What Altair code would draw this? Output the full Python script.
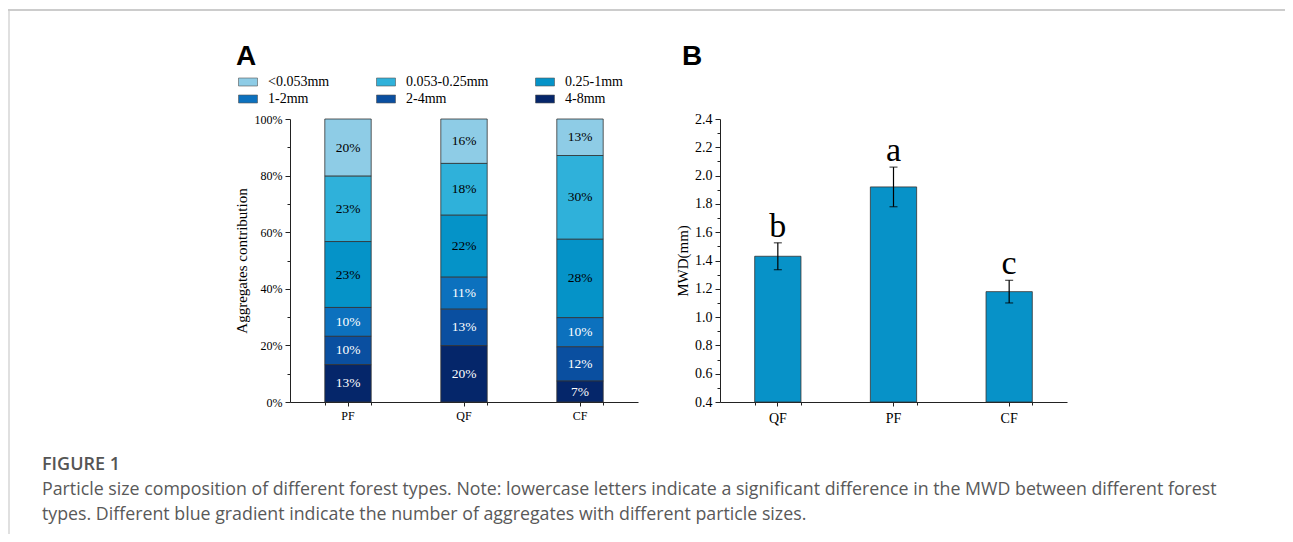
import altair as alt
import pandas as pd

# ---------------- data ----------------
forests_a = ["PF", "QF", "CF"]
sizes = ["<0.053mm", "0.053-0.25mm", "0.25-1mm", "1-2mm", "2-4mm", "4-8mm"]
pf_vals = [20.2, 23.1, 23.3, 10.2, 10.0, 13.2]
qf_vals = [15.7, 18.3, 21.9, 11.3, 12.9, 19.9]
cf_vals = [12.9, 29.6, 27.7, 10.3, 12.1, 7.4]
size_colors = ["#8ecce6", "#2fb1da", "#0593c8", "#0c71be", "#0a4fa0", "#05266a"]
dark_sizes = ["1-2mm", "2-4mm", "4-8mm"]
pct_ticks = [0, 10, 20, 30, 40, 50, 60, 70, 80, 90, 100]

forests_b = ["QF", "PF", "CF"]
mwd = [1.43, 1.92, 1.18]
mwd_err = [0.095, 0.14, 0.08]
letters = ["b", "a", "c"]
mwd_ticks = [0.4, 0.5, 0.6, 0.7, 0.8, 0.9, 1.0, 1.1, 1.2, 1.3, 1.4, 1.5,
             1.6, 1.7, 1.8, 1.9, 2.0, 2.1, 2.2, 2.3, 2.4]

caption_head = "FIGURE 1"
caption_lines = [
    "Particle size composition of different forest types. Note: lowercase letters indicate a significant difference in the MWD between different forest",
    "types. Different blue gradient indicate the number of aggregates with different particle sizes.",
]

# ---------------- tables ----------------
rows = []
for f, vals in zip(forests_a, [pf_vals, qf_vals, cf_vals]):
    for i, (s, v) in enumerate(zip(sizes, vals)):
        rows.append({"forest": f, "size": s, "value": v, "order": len(sizes) - 1 - i})
df_a = pd.DataFrame(rows)

df_b = pd.DataFrame({"forest": forests_b, "mwd": mwd, "err": mwd_err, "letter": letters})
df_b["lo"] = df_b["mwd"] - df_b["err"]
df_b["hi"] = df_b["mwd"] + df_b["err"]

SERIF = "Liberation Serif"
SANS = "Liberation Sans"
AX = "#222222"

# ---------------- panel A ----------------
def xa_scale():
    return alt.Scale(domain=forests_a, range=[0, 348], paddingInner=0.6, paddingOuter=0.3)

def ya_scale():
    return alt.Scale(domain=[0, 100], nice=False)

xa = alt.X("forest:N", sort=forests_a, scale=xa_scale(),
           axis=alt.Axis(orient="bottom", title=None, labelAngle=0, labelFont=SERIF,
                         labelFontSize=12, labelColor="#000", tickSize=4, labelPadding=4,
                         domainColor=AX, tickColor=AX, grid=False))
ya = alt.Y("value:Q", stack="zero", scale=ya_scale(),
           axis=alt.Axis(orient="left", title="Aggregates contribution", values=pct_ticks,
                         labelExpr="datum.value % 20 == 0 ? datum.value + '%' : ''",
                         tickSize={"condition": {"test": "datum.value % 20 == 0", "value": 5}, "value": 3},
                         labelFont=SERIF, labelFontSize=12, labelColor="#000", labelPadding=3,
                         titleFont=SERIF, titleFontSize=15, titleFontWeight="normal",
                         titleColor="#000", titlePadding=5, domainColor=AX, tickColor=AX, grid=False))

bars_a = alt.Chart(df_a).mark_bar(stroke="#333", strokeWidth=0.8).encode(
    x=xa, y=ya,
    color=alt.Color("size:N", sort=sizes, scale=alt.Scale(domain=sizes, range=size_colors),
                    legend=alt.Legend(orient="none", legendX=-52, legendY=-47, columns=3,
                                      direction="horizontal",
                                      columnPadding=45, rowPadding=0, labelOffset=10, title=None,
                                      labelFont=SERIF, labelFontSize=14, labelColor="#000",
                                      symbolType="M-1,-0.42H1V0.42H-1Z", symbolSize=361,
                                      symbolStrokeColor="#555", symbolStrokeWidth=0.6,
                                      padding=0, labelLimit=300)),
    order=alt.Order("order:Q", sort="ascending"),
)

# minor ticks at the band edges of the category axis
edges_a = alt.Chart(df_a).mark_point(opacity=0).encode(
    x=alt.X("forest:N", sort=forests_a, scale=xa_scale(),
            axis=alt.Axis(orient="bottom", title=None, labels=False, domain=False, tickBand="extent",
                          tickSize=3, tickColor=AX, grid=False)))

txt_base = alt.Chart(df_a).transform_window(
    cum="sum(value)", groupby=["forest"], sort=[alt.SortField("order")], frame=[None, 0]
).transform_calculate(mid="datum.cum - datum.value / 2", lbl="format(datum.value, '.0f') + '%'")

txt_dark = txt_base.transform_filter(alt.FieldOneOfPredicate(field="size", oneOf=dark_sizes)).mark_text(
    color="white", font=SERIF, fontSize=13.5).encode(
    x=alt.X("forest:N", sort=forests_a, scale=xa_scale(), axis=None),
    y=alt.Y("mid:Q", scale=ya_scale(), axis=None), text="lbl:N")
txt_light = txt_base.transform_filter(
    {"not": alt.FieldOneOfPredicate(field="size", oneOf=dark_sizes)}).mark_text(
    color="black", font=SERIF, fontSize=13.5).encode(
    x=alt.X("forest:N", sort=forests_a, scale=xa_scale(), axis=None),
    y=alt.Y("mid:Q", scale=ya_scale(), axis=None), text="lbl:N")

# ---------------- panel B ----------------
def xb_scale():
    return alt.Scale(domain=forests_b, range=[430, 777], paddingInner=0.6, paddingOuter=0.3)

def yb_scale():
    return alt.Scale(domain=[0.4, 2.4], nice=False, zero=False)

xb = alt.X("forest:N", sort=forests_b, scale=xb_scale(),
           axis=alt.Axis(orient="bottom", title=None, labelAngle=0, labelFont=SERIF,
                         labelFontSize=14, labelColor="#000", tickSize=4, labelPadding=5,
                         domainColor=AX, tickColor=AX, grid=False))
yb = alt.Y("mwd:Q", scale=yb_scale(),
           axis=alt.Axis(orient="left", offset=-430, title="MWD(mm)", values=mwd_ticks,
                         labelExpr="round(datum.value * 10) % 2 == 0 ? format(datum.value, '.1f') : ''",
                         tickSize={"condition": {"test": "round(datum.value * 10) % 2 == 0", "value": 5}, "value": 3},
                         labelFont=SERIF, labelFontSize=14, labelColor="#000", labelPadding=3,
                         titleFont=SERIF, titleFontSize=15, titleFontWeight="normal",
                         titleColor="#000", titlePadding=4, domainColor=AX, tickColor=AX, grid=False))

def xb_plain():
    return alt.X("forest:N", sort=forests_b, scale=xb_scale(), axis=None)

bars_b = alt.Chart(df_b).mark_bar(color="#0792c8", stroke="#333", strokeWidth=0.8).encode(
    x=xb, y=yb, y2=alt.datum(0.4))
edges_b = alt.Chart(df_b).mark_point(opacity=0).encode(
    x=alt.X("forest:N", sort=forests_b, scale=xb_scale(),
            axis=alt.Axis(orient="bottom", title=None, labels=False, domain=False, tickBand="extent",
                          tickSize=3, tickColor=AX, grid=False)))
rule_b = alt.Chart(df_b).mark_rule(color="black", strokeWidth=1.2).encode(
    x=xb_plain(), y=alt.Y("lo:Q", scale=yb_scale(), axis=None), y2="hi:Q")
cap_lo = alt.Chart(df_b).mark_tick(color="black", thickness=1.2, size=8).encode(
    x=xb_plain(), y=alt.Y("lo:Q", scale=yb_scale(), axis=None))
cap_hi = alt.Chart(df_b).mark_tick(color="black", thickness=1.2, size=8).encode(
    x=xb_plain(), y=alt.Y("hi:Q", scale=yb_scale(), axis=None))
let_b = alt.Chart(df_b).mark_text(font=SERIF, fontSize=34, baseline="alphabetic", dy=-6, color="black").encode(
    x=xb_plain(), y=alt.Y("hi:Q", scale=yb_scale(), axis=None), text="letter:N")

# ---------------- decorations (panel letters, caption, frame) ----------------
one = pd.DataFrame({"k": [0]})
lab_a = alt.Chart(one).mark_text(text="A", font=SANS, fontWeight="bold", fontSize=28, align="left",
                                 baseline="alphabetic", color="black").encode(x=alt.value(-54), y=alt.value(-54))
lab_b = alt.Chart(one).mark_text(text="B", font=SANS, fontWeight="bold", fontSize=28, align="left",
                                 baseline="alphabetic", color="black").encode(x=alt.value(392), y=alt.value(-54))
cap_h = alt.Chart(one).mark_text(text=caption_head, font="Open Sans", fontWeight=600, fontSize=18,
                                 align="left", baseline="alphabetic", color="#555555").encode(
    x=alt.value(-248), y=alt.value(351))
cap_1 = alt.Chart(one).mark_text(text=caption_lines[0], font="Open Sans", fontSize=17.8, align="left",
                                 baseline="alphabetic", color="#595959").encode(x=alt.value(-248), y=alt.value(376))
cap_2 = alt.Chart(one).mark_text(text=caption_lines[1], font="Open Sans", fontSize=17.8, align="left",
                                 baseline="alphabetic", color="#595959").encode(x=alt.value(-248), y=alt.value(401))
frame_top = alt.Chart(one).mark_rule(color="#cccccc", strokeWidth=2).encode(
    x=alt.value(-282), x2=alt.value(995), y=alt.value(-109))
frame_left = alt.Chart(one).mark_rule(color="#cccccc", strokeWidth=1.2).encode(
    x=alt.value(-281), y=alt.value(-110), y2=alt.value(420))

chart = alt.layer(
    frame_top, frame_left, lab_a, lab_b, cap_h, cap_1, cap_2,
    bars_a, edges_a, txt_dark, txt_light,
    bars_b, edges_b, rule_b, cap_lo, cap_hi, let_b,
).resolve_scale(
    x="independent", y="independent", color="independent"
).properties(
    width=995, height=283,
    padding={"left": 282, "top": 111, "right": 0, "bottom": 132},
    autosize=alt.AutoSizeParams(type="none"),
    background="white",
).configure_view(stroke=None)

chart.save("out.html", embed_options={"renderer": "svg", "actions": False})
